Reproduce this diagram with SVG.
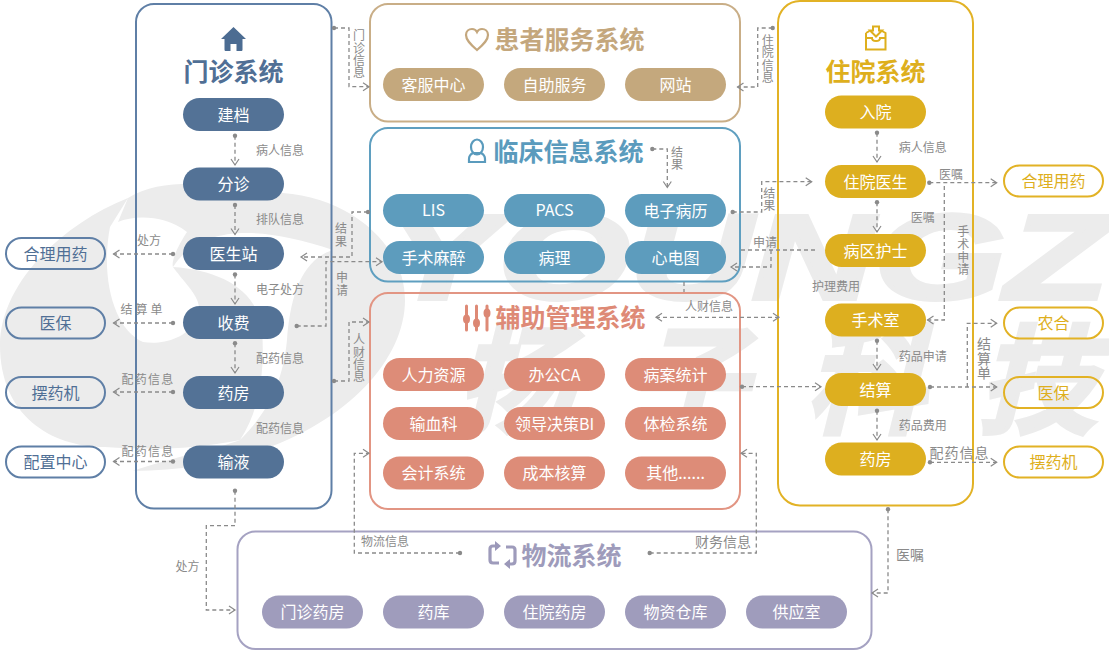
<svg xmlns="http://www.w3.org/2000/svg" width="1109" height="650" viewBox="0 0 1109 650">
<style>
text{font-family:"Noto Sans CJK SC","Noto Sans",sans-serif;text-anchor:middle;dominant-baseline:central}
.wm{fill:#ececec}
.wt{font-family:"Liberation Sans","Noto Sans CJK SC",sans-serif;font-weight:700;font-style:italic;stroke:#ececec;stroke-width:4}
.panel{fill:none;stroke-width:2}
.pill{stroke:none;opacity:.96}
.out{fill:none;stroke-width:2}
.pt{font-size:16px;fill:#fff;transform:translateY(-1px)}
.ot{font-size:16px;transform:translateY(-1px)}
.title{font-size:25px;font-weight:700;transform:translateY(-1px)}
.c{fill:none;stroke:#8a8a8a;stroke-width:1.300;stroke-dasharray:4 3}
.ar{marker-end:url(#arrow)}
.ds{marker-start:url(#dot)}
.l{font-size:12px;fill:#8a8a8a;transform:translateY(-1px)}
.l14{font-size:14px;fill:#8a8a8a;transform:translateY(-1px)}
.blue{fill:#4c6c92}.tan{fill:#c2a478}.teal{fill:#5698ba}.sal{fill:#dc8773}.gold{fill:#dcac16}.pur{fill:#9b98b9}
</style>
<defs>
<marker id="arrow" markerUnits="userSpaceOnUse" markerWidth="10" markerHeight="12" refX="7" refY="5" orient="auto-start-reverse"><path d="M1,1 L7,5 L1,9" fill="none" stroke="#8a8a8a" stroke-width="1.200"/></marker>
<marker id="dot" markerUnits="userSpaceOnUse" markerWidth="6" markerHeight="6" refX="3" refY="3"><circle cx="3" cy="3" r="2.200" fill="#8a8a8a"/></marker>
</defs>
<g id="watermark">
<path class="wm" d="M128,198C165,175 225,185 267,193C340,190 405,240 405,300C405,380 300,470 133,471C170,458 220,448 240,440C190,450 150,450 105,447C50,447 0,415 0,345C0,285 60,225 128,198Z"/>
<path fill="#fff" d="M128,198L110,227C100,280 115,330 143,342C160,345 185,340 197,320C205,300 190,290 173,267C172,265 172,255 187,232C165,215 135,215 118,222Z"/>
<path fill="#fff" d="M173,267C200,225 260,225 333,250C300,260 290,300 287,340C283,380 270,410 240,440C260,410 265,370 262,330C258,290 220,270 173,267Z"/>
<text class="wm wt" style="text-anchor:start" x="385" y="257" font-size="120" textLength="724" lengthAdjust="spacingAndGlyphs">YOUNGZ</text>
<text class="wm wt" x="515" y="383" font-size="118">扬</text>
<text class="wm wt" x="688" y="383" font-size="118">子</text>
<text class="wm wt" x="865" y="383" font-size="118">科</text>
<text class="wm wt" x="1037" y="383" font-size="118">技</text>
</g>
<g id="panels">
<rect class="panel" x="136" y="4" width="195.500" height="504.500" rx="18" stroke="#5f7fa6"/>
<rect class="panel" x="370" y="4" width="370" height="117.500" rx="18" stroke="#c9ae87"/>
<rect class="panel" x="370" y="128" width="370" height="153.500" rx="18" stroke="#5f9fc0"/>
<rect class="panel" x="370" y="293" width="370" height="216" rx="18" stroke="#e29583"/>
<rect class="panel" x="778" y="1" width="195" height="504.500" rx="22" stroke="#e2b225"/>
<rect class="panel" x="237.500" y="531.500" width="634" height="117.500" rx="18" stroke="#a5a2c2"/>
</g>
<g id="connectors">
<path class="c ds ar" d="M235,135.700V165"/>
<path class="c ds ar" d="M235,205V234.500"/>
<path class="c ds ar" d="M235,274.500V304"/>
<path class="c ds ar" d="M235,343.300V373"/>
<path class="c ds ar" d="M173,254H113.500"/>
<path class="c ds ar" d="M173,323H113.500"/>
<path class="c ds ar" d="M173,392H113.500"/>
<path class="c ds ar" d="M173,461.500H113.500"/>
<path class="c ds ar" d="M334,28H349V86.700H369"/>
<path class="c ds ar" d="M368,212H352V257H301"/>
<path class="c ds ar" d="M296.700,326H326V261.700H382"/>
<path class="c ds ar" d="M334,381H349V322H369"/>
<path class="c ds ar" d="M460,553H354.300V453.300H369"/>
<path class="c ds ar" d="M649.700,553H756.300V453.300H741"/>
<path class="c ds ar" d="M235,490.700V525.700H206.300V610H235"/>
<path class="c ds ar" d="M888,509.300V593H872"/>
<path class="c ds ar" d="M772.700,28H757.700V87H737.500"/>
<path class="c ds ar" d="M652.300,149H667.300V187.500"/>
<path class="c ds ar" d="M732.700,212H761.700V181.700H811.700"/>
<path class="c" d="M815,250H741"/>
<path class="c ar" d="M771,250V267H731"/>
<path class="c" d="M684,282V292"/>
<path class="c ds ar" d="M929.300,182.700H996.700"/>
<path class="c ar" d="M944.300,186V320H927.500"/>
<path class="c ar" style="marker-start:url(#arrow)" d="M656,317.300H779"/>
<path class="c ds ar" d="M742,386.700H821"/>
<path class="c ds ar" d="M877,132.700V162"/>
<path class="c ds ar" d="M877,202.300V232"/>
<path class="c ds ar" d="M877,340.700V370"/>
<path class="c ds ar" d="M877,410.700V440"/>
<path class="c ds ar" d="M930,387H996.700"/>
<path class="c ar" d="M967.300,387V323.300H996.700"/>
<path class="c ds ar" d="M930,462.300H996.700"/>
<g id="connector-labels">
<text class="l" x="280" y="150">病人信息</text>
<text class="l" x="280" y="219.500">排队信息</text>
<text class="l" x="280" y="289">电子处方</text>
<text class="l" x="280" y="358.500">配药信息</text>
<text class="l" x="280" y="428">配药信息</text>
<text class="l" x="149" y="240">处方</text>
<text class="l" x="143" y="309.500" letter-spacing="3">结算单</text>
<text class="l" x="148" y="379" letter-spacing="1.300">配药信息</text>
<text class="l" x="148" y="451" letter-spacing="1.300">配药信息</text>
<text class="l"><tspan x="359" y="35">门</tspan><tspan x="359" y="47.500">诊</tspan><tspan x="359" y="60">信</tspan><tspan x="359" y="72">息</tspan></text>
<text class="l"><tspan x="341" y="228">结</tspan><tspan x="341" y="241">果</tspan></text>
<text class="l"><tspan x="342" y="277">申</tspan><tspan x="342" y="290">请</tspan></text>
<text class="l"><tspan x="359" y="339">人</tspan><tspan x="359" y="351.700">财</tspan><tspan x="359" y="364">信</tspan><tspan x="359" y="376">息</tspan></text>
<text class="l"><tspan x="677" y="152">结</tspan><tspan x="677" y="164">果</tspan></text>
<text class="l"><tspan x="767.700" y="40">住</tspan><tspan x="767.700" y="52">院</tspan><tspan x="767.700" y="65">信</tspan><tspan x="767.700" y="77">息</tspan></text>
<text class="l"><tspan x="769.300" y="192.700">结</tspan><tspan x="769.300" y="205">果</tspan></text>
<text class="l" x="765" y="242.700">申请</text>
<text class="l" x="922.700" y="147">病人信息</text>
<text class="l" x="951" y="174">医嘱</text>
<text class="l" x="922.700" y="217">医嘱</text>
<text class="l"><tspan x="963.300" y="231">手</tspan><tspan x="963.300" y="244">术</tspan><tspan x="963.300" y="256.500">申</tspan><tspan x="963.300" y="269">请</tspan></text>
<text class="l" x="836" y="286">护理费用</text>
<text class="l" x="709" y="306.700">人财信息</text>
<text class="l" x="922.700" y="356">药品申请</text>
<text class="l" x="922.700" y="425.700">药品费用</text>
<text class="l14" x="959.500" y="453.300" letter-spacing="1">配药信息</text>
<text class="l14"><tspan x="984" y="344.300">结</tspan><tspan x="984" y="358.500">算</tspan><tspan x="984" y="372.500">单</tspan></text>
<text class="l" x="385" y="541">物流信息</text>
<text class="l14" x="723" y="542.300">财务信息</text>
<text class="l" x="187.500" y="566">处方</text>
<text class="l14" x="910" y="555">医嘱</text>
</g>
</g>
<g id="outpatient">
<g id="outpatient-title">
<path class="blue" d="M233.500,27L221,39H224.500V49.500C224.500,50.500 225,51 226,51H230.500V44H236.500V51H241C242,51 242.500,50.500 242.500,49.500V39H246Z"/>
<text class="title" x="233.500" y="71" fill="#506f95">门诊系统</text>
</g>
<g id="op-jd"><rect class="pill blue" x="183" y="98" width="101" height="33" rx="16.500"/><text class="pt" x="233.500" y="114.500">建档</text></g>
<g id="op-fz"><rect class="pill blue" x="183" y="167.500" width="101" height="33" rx="16.500"/><text class="pt" x="233.500" y="184">分诊</text></g>
<g id="op-ysz"><rect class="pill blue" x="183" y="237" width="101" height="33" rx="16.500"/><text class="pt" x="233.500" y="253.500">医生站</text></g>
<g id="op-sf"><rect class="pill blue" x="183" y="306" width="101" height="33" rx="16.500"/><text class="pt" x="233.500" y="322.500">收费</text></g>
<g id="op-yf"><rect class="pill blue" x="183" y="376" width="101" height="33" rx="16.500"/><text class="pt" x="233.500" y="392.500">药房</text></g>
<g id="op-sy"><rect class="pill blue" x="183" y="445.500" width="101" height="33" rx="16.500"/><text class="pt" x="233.500" y="462">输液</text></g>
</g>
<g id="left-outer">
<g id="l-hlyy"><rect class="out" x="6" y="238" width="99" height="31" rx="15.500" stroke="#5f7fa6"/><text class="ot" x="55.500" y="253.500" fill="#506f95">合理用药</text></g>
<g id="l-yb"><rect class="out" x="6" y="307.500" width="99" height="31" rx="15.500" stroke="#5f7fa6"/><text class="ot" x="55.500" y="323" fill="#506f95">医保</text></g>
<g id="l-byj"><rect class="out" x="6" y="377" width="99" height="31" rx="15.500" stroke="#5f7fa6"/><text class="ot" x="55.500" y="392.500" fill="#506f95">摆药机</text></g>
<g id="l-pzzx"><rect class="out" x="6" y="446.500" width="99" height="31" rx="15.500" stroke="#5f7fa6"/><text class="ot" x="55.500" y="462" fill="#506f95">配置中心</text></g>
</g>
<g id="patient-service">
<g id="ps-title">
<path d="M477,50C470,44 466,40 466,35C466,31 469,29 472,29C474,29 476,30 477,32C478,30 480,29 482,29C485,29 488,31 488,35C488,40 484,44 477,50Z" fill="none" stroke="#c4a77d" stroke-width="2.200"/>
<text class="title" x="569.500" y="39" fill="#c4a77d">患者服务系统</text>
</g>
<g id="ps-kf"><rect class="pill tan" x="383" y="68" width="101" height="33" rx="16.500"/><text class="pt" x="433.500" y="84.500">客服中心</text></g>
<g id="ps-zz"><rect class="pill tan" x="504" y="68" width="101" height="33" rx="16.500"/><text class="pt" x="554.500" y="84.500">自助服务</text></g>
<g id="ps-wz"><rect class="pill tan" x="625" y="68" width="101" height="33" rx="16.500"/><text class="pt" x="675.500" y="84.500">网站</text></g>
</g>
<g id="clinical">
<g id="cl-title">
<ellipse cx="477" cy="147" rx="6" ry="7.500" fill="none" stroke="#5a9bbd" stroke-width="2.200"/>
<path d="M469,162V159C469,156 471,154 473,153H481C483,154 485,156 485,159V162Z" fill="none" stroke="#5a9bbd" stroke-width="2.200"/>
<text class="title" x="568.500" y="151" fill="#5a9bbd">临床信息系统</text>
</g>
<g id="cl-lis"><rect class="pill teal" x="383" y="194" width="101" height="33" rx="16.500"/><text class="pt" x="433.500" y="210">LIS</text></g>
<g id="cl-pacs"><rect class="pill teal" x="504" y="194" width="101" height="33" rx="16.500"/><text class="pt" x="554.500" y="210">PACS</text></g>
<g id="cl-emr"><rect class="pill teal" x="625" y="194" width="101" height="33" rx="16.500"/><text class="pt" x="675.500" y="210.500">电子病历</text></g>
<g id="cl-ss"><rect class="pill teal" x="383" y="241" width="101" height="33" rx="16.500"/><text class="pt" x="433.500" y="257.500">手术麻醉</text></g>
<g id="cl-bl"><rect class="pill teal" x="504" y="241" width="101" height="33" rx="16.500"/><text class="pt" x="554.500" y="257.500">病理</text></g>
<g id="cl-xdt"><rect class="pill teal" x="625" y="241" width="101" height="33" rx="16.500"/><text class="pt" x="675.500" y="257.500">心电图</text></g>
</g>
<g id="auxiliary">
<g id="ax-title">
<g fill="none" stroke="#de8a76" stroke-width="3" stroke-linecap="round"><path d="M466.500,306V330M476.500,306V330M487,306V330"/></g>
<g class="sal"><ellipse cx="466.500" cy="319" rx="3.500" ry="4.500"/><ellipse cx="476.500" cy="323" rx="3.500" ry="4.500"/><ellipse cx="487" cy="313" rx="3.500" ry="4.500"/></g>
<text class="title" x="570.500" y="316.700" fill="#de8a76">辅助管理系统</text>
</g>
<g id="ax-1"><rect class="pill sal" x="383" y="358" width="101" height="33" rx="16.500"/><text class="pt" x="433.500" y="374.500">人力资源</text></g>
<g id="ax-2"><rect class="pill sal" x="504" y="358" width="101" height="33" rx="16.500"/><text class="pt" x="554.500" y="374.500">办公CA</text></g>
<g id="ax-3"><rect class="pill sal" x="625" y="358" width="101" height="33" rx="16.500"/><text class="pt" x="675.500" y="374.500">病案统计</text></g>
<g id="ax-4"><rect class="pill sal" x="383" y="407" width="101" height="33" rx="16.500"/><text class="pt" x="433.500" y="423.500">输血科</text></g>
<g id="ax-5"><rect class="pill sal" x="504" y="407" width="101" height="33" rx="16.500"/><text class="pt" x="554.500" y="423.500">领导决策BI</text></g>
<g id="ax-6"><rect class="pill sal" x="625" y="407" width="101" height="33" rx="16.500"/><text class="pt" x="675.500" y="423.500">体检系统</text></g>
<g id="ax-7"><rect class="pill sal" x="383" y="456.500" width="101" height="33" rx="16.500"/><text class="pt" x="433.500" y="473">会计系统</text></g>
<g id="ax-8"><rect class="pill sal" x="504" y="456.500" width="101" height="33" rx="16.500"/><text class="pt" x="554.500" y="473">成本核算</text></g>
<g id="ax-9"><rect class="pill sal" x="625" y="456.500" width="101" height="33" rx="16.500"/><text class="pt" x="675.500" y="473">其他......</text></g>
</g>
<g id="inpatient">
<g id="ip-title">
<g fill="none" stroke="#deaf1d" stroke-width="2"><path d="M866,33V49.500H885.500V33L882,31M869.500,31L866,33M866,38H872C872,42 880,42 880,38H885.500"/><path d="M873,26.500H879V30.500H882L876,36.500L870,30.500H873Z"/></g>
<text class="title" x="875.500" y="71" fill="#deaf1d">住院系统</text>
</g>
<g id="ip-ry"><rect class="pill gold" x="825" y="95.500" width="101" height="33" rx="16.500"/><text class="pt" x="875.500" y="112">入院</text></g>
<g id="ip-ys"><rect class="pill gold" x="825" y="165" width="101" height="33" rx="16.500"/><text class="pt" x="875.500" y="181.500">住院医生</text></g>
<g id="ip-hs"><rect class="pill gold" x="825" y="234" width="101" height="33" rx="16.500"/><text class="pt" x="875.500" y="250.500">病区护士</text></g>
<g id="ip-ssz"><rect class="pill gold" x="825" y="303.500" width="101" height="33" rx="16.500"/><text class="pt" x="875.500" y="320">手术室</text></g>
<g id="ip-js"><rect class="pill gold" x="825" y="373" width="101" height="33" rx="16.500"/><text class="pt" x="875.500" y="389.500">结算</text></g>
<g id="ip-yf"><rect class="pill gold" x="825" y="442.500" width="101" height="33" rx="16.500"/><text class="pt" x="875.500" y="459">药房</text></g>
</g>
<g id="right-outer">
<g id="r-hlyy"><rect class="out" x="1004" y="165.500" width="99" height="31" rx="15.500" stroke="#e2b225"/><text class="ot" x="1053.500" y="181" fill="#deaf1d">合理用药</text></g>
<g id="r-nh"><rect class="out" x="1004" y="307.500" width="99" height="31" rx="15.500" stroke="#e2b225"/><text class="ot" x="1053.500" y="323" fill="#deaf1d">农合</text></g>
<g id="r-yb"><rect class="out" x="1004" y="377" width="99" height="31" rx="15.500" stroke="#e2b225"/><text class="ot" x="1053.500" y="392.500" fill="#deaf1d">医保</text></g>
<g id="r-byj"><rect class="out" x="1004" y="446.500" width="99" height="31" rx="15.500" stroke="#e2b225"/><text class="ot" x="1053.500" y="462" fill="#deaf1d">摆药机</text></g>
</g>
<g id="logistics">
<g id="lg-title">
<g fill="none" stroke="#9e9bbb" stroke-width="3.200"><path d="M499,563H493C491,563 490,562 490,560V549C490,547 491,546 493,546H495"/><path d="M506,547H512C514,547 515,548 515,550V561C515,563 514,564 512,564H510"/></g>
<path class="pur" d="M495,541L501,546L495,551ZM510,559L504,564L510,569Z"/>
<text class="title" x="571.500" y="555" fill="#9e9bbb">物流系统</text>
</g>
<g id="lg-1"><rect class="pill pur" x="262" y="595.500" width="101" height="33" rx="16.500"/><text class="pt" x="312.500" y="612">门诊药房</text></g>
<g id="lg-2"><rect class="pill pur" x="383" y="595.500" width="101" height="33" rx="16.500"/><text class="pt" x="433.500" y="612">药库</text></g>
<g id="lg-3"><rect class="pill pur" x="504" y="595.500" width="101" height="33" rx="16.500"/><text class="pt" x="554.500" y="612">住院药房</text></g>
<g id="lg-4"><rect class="pill pur" x="625" y="595.500" width="101" height="33" rx="16.500"/><text class="pt" x="675.500" y="612">物资仓库</text></g>
<g id="lg-5"><rect class="pill pur" x="746" y="595.500" width="101" height="33" rx="16.500"/><text class="pt" x="796.500" y="612">供应室</text></g>
</g>
</svg>
